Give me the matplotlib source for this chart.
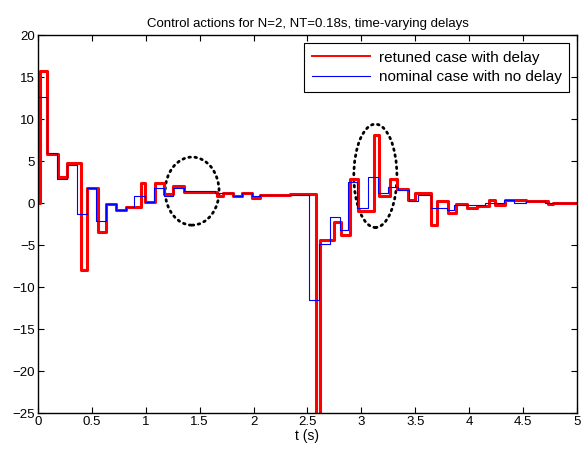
import numpy as np
import matplotlib.pyplot as plt
from matplotlib.patches import Ellipse

plt.rcParams['font.family'] = ['Liberation Sans', 'DejaVu Sans']

# Control signal with delay (step start times and levels)
t_red = [0.00, 0.02, 0.087, 0.19, 0.27, 0.40, 0.452, 0.56, 0.632, 0.725,
         0.815, 0.955, 0.995, 1.09, 1.17, 1.257, 1.35, 1.66, 1.716, 1.81,
         1.89, 1.99, 2.06, 2.19, 2.34, 2.58, 2.62, 2.745, 2.81, 2.89,
         2.97, 3.12, 3.165, 3.265, 3.33, 3.435, 3.50, 3.65, 3.705, 3.80,
         3.875, 3.98, 4.075, 4.18, 4.24, 4.33, 4.53, 4.73, 4.78, 4.90, 5.0]
u_red = [0.0, 15.7, 5.9, 3.1, 4.76, -8.0, 1.8, -3.45, -0.1, -0.8,
         -0.4, 2.45, 0.2, 2.4, 1.1, 2.06, 1.38, 0.85, 1.27, 0.87,
         1.19, 0.67, 0.95, 1.02, 1.15, -27.0, -4.37, -2.2, -3.77, 2.86,
         -0.88, 8.13, 0.87, 2.86, 1.67, 0.4, 1.27, -2.6, 0.27, -1.19,
         -0.12, -0.55, -0.32, 0.4, -0.15, 0.45, 0.22, -0.12, 0.07, 0.0, 0.0]

# Nominal control signal without delay
t_blue = [0.00, 0.085, 0.174, 0.266, 0.365, 0.458, 0.54, 0.632, 0.725, 0.815,
          0.895, 0.995, 1.08, 1.17, 1.257, 1.35, 1.64, 1.81, 1.89, 1.99,
          2.06, 2.19, 2.51, 2.61, 2.71, 2.80, 2.88, 2.96, 3.06, 3.15,
          3.25, 3.34, 3.44, 3.53, 3.65, 3.79, 3.86, 4.15, 4.32, 4.42,
          4.53, 4.70, 5.0]
u_blue = [12.7, 6.0, 2.9, 4.5, -1.3, 1.78, -2.07, -0.1, -0.8, -0.4,
          0.87, 0.2, 1.78, 0.87, 1.78, 1.5, 1.25, 0.87, 1.19, 0.87,
          0.95, 1.02, -11.5, -4.85, -1.67, -3.18, 2.57, -0.6, 3.1, 1.19,
          1.98, 1.6, 0.32, 1.0, -0.6, -0.8, -0.2, 0.07, 0.4, 0.07,
          0.27, 0.0, 0.0]

# Highlighted regions: (center t, center u, width, height)
marks = [(1.43, 1.45, 0.50, 8.1), (3.13, 3.27, 0.40, 12.3)]

fig = plt.figure(figsize=(5.81, 4.5), dpi=100)
ax = fig.add_axes([0.0654, 0.0816, 0.9276, 0.84])

ax.plot(t_red, u_red, color='red', lw=2.2, drawstyle='steps-post',
        label='retuned case with delay')
ax.plot(t_blue, u_blue, color='blue', lw=0.8, drawstyle='steps-post',
        label='nominal case with no delay')

for cx, cy, w, h in marks:
    ax.add_patch(Ellipse((cx, cy), w, h, fill=False, edgecolor='black',
                         lw=2.0, linestyle=(0, (0.6, 1.6)),
                         capstyle='round'))

ax.set_xlim(0, 5)
ax.set_ylim(-25, 20)
ax.set_xticks(np.arange(0, 5.01, 0.5))
ax.set_xticklabels(['0', '0.5', '1', '1.5', '2', '2.5', '3', '3.5', '4', '4.5', '5'])
ax.set_yticks(np.arange(-25, 21, 5))
ax.tick_params(direction='in', top=True, right=True, length=4, width=0.8,
               labelsize=9.5, pad=2)
for s in ax.spines.values():
    s.set_linewidth(1.0)

ax.set_xlabel('t (s)', fontsize=10, labelpad=1)
ax.set_title('Control actions for N=2, NT=0.18s, time-varying delays',
             fontsize=9.5, pad=6)

leg = ax.legend(loc='upper right', fontsize=11, fancybox=False,
                framealpha=1, edgecolor='black', handlelength=3.8,
                borderaxespad=0.5, borderpad=0.5, labelspacing=0.35,
                handletextpad=0.6)
leg.get_frame().set_linewidth(0.8)
leg.get_lines()[0].set_linewidth(1.4)

fig.savefig('out.png', dpi=100)
